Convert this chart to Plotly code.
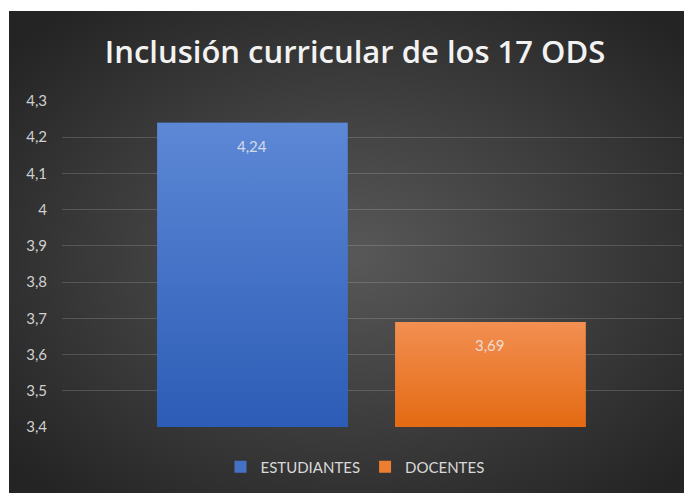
import base64
import plotly.graph_objects as go

# data
categories = ["ESTUDIANTES", "DOCENTES"]
values = [4.24, 3.69]
tick_values = [3.4, 3.5, 3.6, 3.7, 3.8, 3.9, 4.0, 4.1, 4.2, 4.3]

top_colors = ["#5d88d6", "#f28f52"]
bottom_colors = ["#2c5cb6", "#e46a12"]
mid_colors = ["#4472c4", "#ed7d31"]

W, H = 692, 493
M = dict(l=54, r=18, t=93, b=74)
y_min, y_max = 3.4, 4.3
bar_w = 0.80

fig = go.Figure()

# legend entries (solid bars, covered by the gradient fills)
for i, (cat, v) in enumerate(zip(categories, values)):
    fig.add_trace(go.Bar(x=[i], y=[v - y_min], base=y_min, width=bar_w,
                         name=cat, marker=dict(color=mid_colors[i], line=dict(width=0)),
                         hoverinfo="skip"))

# gradient fills drawn on top of the bars
for i, v in enumerate(values):
    xs = [i - bar_w / 2, i + bar_w / 2, i + bar_w / 2, i - bar_w / 2, i - bar_w / 2]
    ys = [y_min, y_min, v, v, y_min]
    fig.add_trace(go.Scatter(x=xs, y=ys, mode="lines", fill="toself",
                             line=dict(width=0, color=mid_colors[i]),
                             fillgradient=dict(type="vertical",
                                               colorscale=[[0, bottom_colors[i]], [1, top_colors[i]]]),
                             showlegend=False, hoverinfo="skip"))

# data labels inside the bars
for i, v in enumerate(values):
    fig.add_annotation(x=i, y=v, text=f"{v:.2f}".replace(".", ","), showarrow=False,
                       yshift=-23, yanchor="middle",
                       font=dict(family="Lato", size=15, color="rgba(240,240,240,0.82)"))

# radial gradient background as an svg image
svg = f'''<svg xmlns="http://www.w3.org/2000/svg" width="{W - 1}" height="{H - 3}">
<defs><radialGradient id="g" cx="50%" cy="50%" r="65%">
<stop offset="0" stop-color="#585858"/><stop offset="1" stop-color="#242424"/>
</radialGradient></defs>
<rect width="100%" height="100%" fill="url(#g)"/></svg>'''
src = "data:image/svg+xml;base64," + base64.b64encode(svg.encode()).decode()

pw = W - M["l"] - M["r"]
ph = H - M["t"] - M["b"]
fig.add_layout_image(dict(source=src, xref="paper", yref="paper",
                          x=(1 - M["l"]) / pw, y=1 + (M["t"] - 3) / ph,
                          sizex=(W - 1) / pw, sizey=(H - 3) / ph,
                          xanchor="left", yanchor="top", sizing="stretch",
                          layer="below"))

fig.update_layout(
    width=W, height=H, margin=M,
    paper_bgcolor="white", plot_bgcolor="rgba(0,0,0,0)",
    separators=",.",
    barmode="overlay",
    title=dict(text="Inclusión curricular de los 17 ODS", x=0.5015, xref="container",
               y=1 - 44 / H, yref="container", xanchor="center", yanchor="middle",
               font=dict(family="Open Sans", size=31, color="#f2f2f2", weight=600)),
    xaxis=dict(range=[-0.80, 1.805], showticklabels=False, showgrid=False,
               zeroline=False, showline=False, fixedrange=True),
    yaxis=dict(range=[y_min, y_max], tickvals=tick_values, showgrid=True,
               gridcolor="rgba(255,255,255,0.16)", gridwidth=1, zeroline=False,
               showline=False, ticks="", ticklabelstandoff=14,
               tickfont=dict(family="Lato", size=15, color="#d0d0d0")),
    legend=dict(orientation="h", x=(347 - M["l"]) / pw, xanchor="center",
                y=-(459 - (H - M["b"])) / ph, yanchor="middle",
                font=dict(family="Lato", size=15, color="#d9d9d9"),
                bgcolor="rgba(0,0,0,0)", itemwidth=30, traceorder="normal"),
    showlegend=True,
)

fig.write_html("out.html")
